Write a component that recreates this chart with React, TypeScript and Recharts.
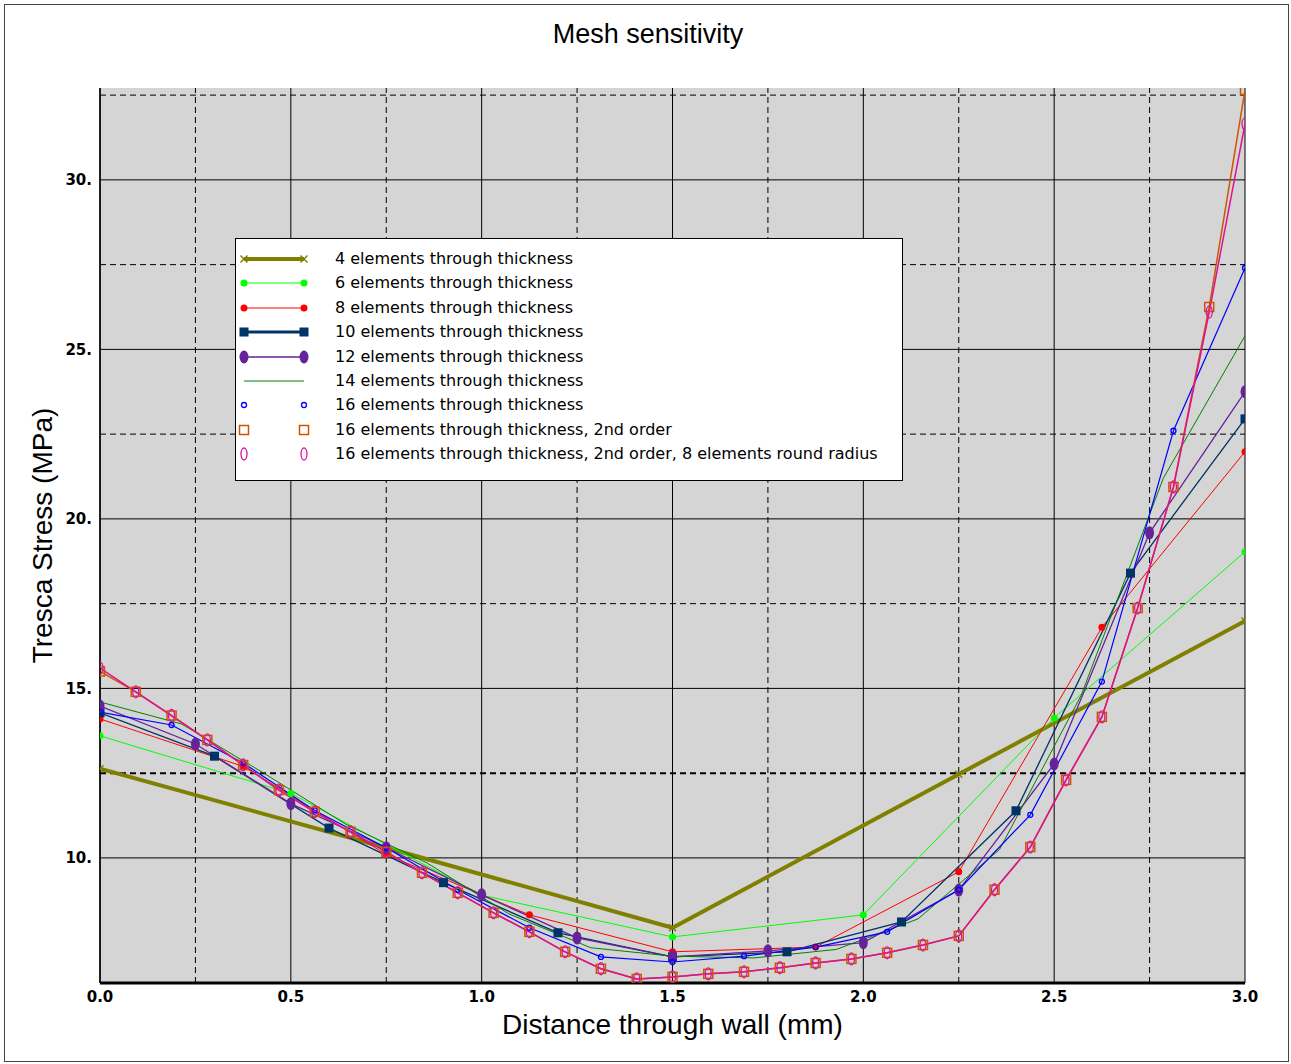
import React from "react";
import { LineChart, Line, XAxis, YAxis, CartesianGrid, ReferenceLine, Label } from "recharts";

// node positions through the wall (mm) and Tresca stress (MPa) for each mesh
const X4 = [0, 0.75, 1.5, 2.25, 3.0];
const Y4 = [12.63, 10.3, 7.94, 12.47, 16.99];

const X6 = [0, 0.5, 1.0, 1.5, 2.0, 2.5, 3.0];
const Y6 = [13.6, 11.9, 8.9, 7.67, 8.32, 14.13, 19.03];

const X8 = [0, 0.375, 0.75, 1.125, 1.5, 1.875, 2.25, 2.625, 3.0];
const Y8 = [14.1, 12.7, 10.1, 8.32, 7.23, 7.37, 9.59, 16.8, 21.98];

const X10 = [0, 0.3, 0.6, 0.9, 1.2, 1.5, 1.8, 2.1, 2.4, 2.7, 3.0];
const Y10 = [14.28, 13.0, 10.88, 9.27, 7.79, 7.08, 7.23, 8.11, 11.39, 18.4, 22.95];

const X12 = [0, 0.25, 0.5, 0.75, 1.0, 1.25, 1.5, 1.75, 2.0, 2.25, 2.5, 2.75, 3.0];
const Y12 = [14.48, 13.36, 11.6, 10.3, 8.91, 7.64, 7.08, 7.26, 7.5, 9.05, 12.77, 19.59, 23.75];

const X14 = [0, 0.214, 0.429, 0.643, 0.857, 1.071, 1.286, 1.5, 1.714, 1.929, 2.143, 2.357, 2.571, 2.786, 3.0];
const Y14 = [14.6, 13.95, 12.5, 11.0, 9.85, 8.35, 7.35, 7.1, 7.05, 7.3, 8.2, 10.25, 14.8, 21.2, 25.4];

const X16 = [0, 0.1875, 0.375, 0.5625, 0.75, 0.9375, 1.125, 1.3125, 1.5, 1.6875, 1.875, 2.0625, 2.25, 2.4375, 2.625, 2.8125, 3.0];
const Y16 = [14.3, 13.92, 12.8, 11.4, 10.3, 9.06, 7.94, 7.08, 6.93, 7.1, 7.37, 7.82, 9.06, 11.27, 15.2, 22.6, 27.4];

// 2nd order meshes have midside nodes too
const X16Q = [
  0, 0.09375, 0.1875, 0.28125, 0.375, 0.46875, 0.5625, 0.65625, 0.75, 0.84375, 0.9375,
  1.03125, 1.125, 1.21875, 1.3125, 1.40625, 1.5, 1.59375, 1.6875, 1.78125, 1.875, 1.96875,
  2.0625, 2.15625, 2.25, 2.34375, 2.4375, 2.53125, 2.625, 2.71875, 2.8125, 2.90625, 3.0,
];
const Y16Q = [
  15.5, 14.9, 14.2, 13.48, 12.74, 12.0, 11.36, 10.77, 10.18, 9.56, 8.97,
  8.38, 7.82, 7.23, 6.73, 6.43, 6.49, 6.58, 6.64, 6.76, 6.9, 7.02,
  7.2, 7.43, 7.7, 9.06, 10.32, 12.3, 14.16, 17.37, 20.94, 26.25, 32.65,
];
const Y16QR = [
  15.6, 14.9, 14.2, 13.48, 12.74, 12.0, 11.36, 10.77, 10.18, 9.56, 8.97,
  8.38, 7.82, 7.23, 6.73, 6.43, 6.49, 6.58, 6.64, 6.76, 6.9, 7.02,
  7.2, 7.43, 7.7, 9.06, 10.32, 12.3, 14.16, 17.37, 20.94, 26.1, 31.65,
];

const X_TICKS = [0, 0.5, 1.0, 1.5, 2.0, 2.5, 3.0];
const X_MINOR = [0.25, 0.75, 1.25, 1.75, 2.25, 2.75];
const Y_TICKS = [10, 15, 20, 25, 30];
const Y_MINOR = [12.5, 17.5, 22.5, 27.5, 32.5];

type MarkerKind = "x" | "dot" | "square" | "diamond" | "none" | "ring" | "box" | "oval";

interface Series {
  key: string;
  name: string;
  xs: number[];
  ys: number[];
  color: string;
  width: number;
  marker: MarkerKind;
  legendLine: boolean;
  legendWidth: number;
}

const SERIES: Series[] = [
  { key: "e4", name: "4 elements through thickness", xs: X4, ys: Y4, color: "#808000", width: 4, marker: "x", legendLine: true, legendWidth: 4 },
  { key: "e6", name: "6 elements through thickness", xs: X6, ys: Y6, color: "#00ff00", width: 1, marker: "dot", legendLine: true, legendWidth: 1 },
  { key: "e8", name: "8 elements through thickness", xs: X8, ys: Y8, color: "#ff0000", width: 1, marker: "dot", legendLine: true, legendWidth: 1 },
  { key: "e10", name: "10 elements through thickness", xs: X10, ys: Y10, color: "#003366", width: 1.3, marker: "square", legendLine: true, legendWidth: 3 },
  { key: "e12", name: "12 elements through thickness", xs: X12, ys: Y12, color: "#662299", width: 1.3, marker: "diamond", legendLine: true, legendWidth: 1.5 },
  { key: "e14", name: "14 elements through thickness", xs: X14, ys: Y14, color: "#008000", width: 1, marker: "none", legendLine: true, legendWidth: 1 },
  { key: "e16", name: "16 elements through thickness", xs: X16, ys: Y16, color: "#0000ff", width: 1.2, marker: "ring", legendLine: false, legendWidth: 1 },
  { key: "e16q", name: "16 elements through thickness, 2nd order", xs: X16Q, ys: Y16Q, color: "#cc5500", width: 1.5, marker: "box", legendLine: false, legendWidth: 1 },
  { key: "e16qr", name: "16 elements through thickness, 2nd order, 8 elements round radius", xs: X16Q, ys: Y16QR, color: "#dd1199", width: 1.5, marker: "oval", legendLine: false, legendWidth: 1 },
];

const rows = (xs: number[], ys: number[]) => xs.map((x, i) => ({ x, y: ys[i] }));

function Marker({ kind, cx, cy, color }: { kind: MarkerKind; cx: number; cy: number; color: string }) {
  switch (kind) {
    case "x":
      return (
        <g stroke={color} strokeWidth={1.5}>
          <line x1={cx - 3.5} y1={cy - 3.5} x2={cx + 3.5} y2={cy + 3.5} />
          <line x1={cx - 3.5} y1={cy + 3.5} x2={cx + 3.5} y2={cy - 3.5} />
        </g>
      );
    case "dot":
      return <circle cx={cx} cy={cy} r={3.5} fill={color} />;
    case "square":
      return <rect x={cx - 4.5} y={cy - 4.5} width={9} height={9} fill={color} />;
    case "diamond":
      return <ellipse cx={cx} cy={cy} rx={4.5} ry={6.5} fill={color} />;
    case "ring":
      return <circle cx={cx} cy={cy} r={2.5} fill="none" stroke={color} strokeWidth={1.3} />;
    case "box":
      return <rect x={cx - 4.5} y={cy - 4.5} width={9} height={9} fill="none" stroke={color} strokeWidth={1.5} />;
    case "oval":
      return <ellipse cx={cx} cy={cy} rx={3} ry={6} fill="none" stroke={color} strokeWidth={1.3} />;
    default:
      return null;
  }
}

function LegendBox() {
  return (
    <div
      style={{
        position: "absolute",
        left: 235,
        top: 238,
        width: 666,
        height: 233,
        border: "1px solid #000",
        background: "#fff",
        paddingTop: 8,
        boxSizing: "content-box",
      }}
    >
      {SERIES.map((s) => (
        <div key={s.key} style={{ position: "relative", height: 24.4 }}>
          <svg width={80} height={24} style={{ position: "absolute", left: 0, top: 0 }}>
            {s.legendLine && (
              <line x1={8} y1={12} x2={68} y2={12} stroke={s.color} strokeWidth={s.legendWidth} />
            )}
            <Marker kind={s.marker} cx={8} cy={12} color={s.color} />
            <Marker kind={s.marker} cx={68} cy={12} color={s.color} />
          </svg>
          <span
            style={{
              position: "absolute",
              left: 99,
              top: 2,
              fontFamily: "DejaVu Sans",
              fontSize: 16,
              lineHeight: "20px",
              color: "#000",
              whiteSpace: "nowrap",
            }}
          >
            {s.name}
          </span>
        </div>
      ))}
    </div>
  );
}

const tickStyle = { fill: "#000", fontSize: 15, fontWeight: "bold" as const, fontFamily: "DejaVu Sans" };

export default function App() {
  return (
    <div style={{ position: "absolute", left: 0, top: 0, width: 1291, height: 1064, background: "#fff" }}>
      <div
        style={{
          position: "absolute",
          left: 4,
          top: 4,
          width: 1283,
          height: 1056,
          border: "1px solid #444",
        }}
      />
      <div
        style={{
          position: "absolute",
          left: 0,
          top: 19,
          width: 1296,
          textAlign: "center",
          fontFamily: "Liberation Sans",
          fontSize: 27,
          lineHeight: "30px",
          color: "#000",
        }}
      >
        Mesh sensitivity
      </div>
      <div style={{ position: "absolute", left: 0, top: 0 }}>
        <LineChart width={1291} height={1064} margin={{ top: 88, right: 46, bottom: 51, left: 40 }}>
          <CartesianGrid fill="#d5d5d5" stroke="none" horizontal={false} vertical={false} />
          {X_MINOR.map((v) => (
            <ReferenceLine key={`xm${v}`} x={v} stroke="#000" strokeDasharray="6 4" strokeWidth={1} />
          ))}
          {X_TICKS.map((v) => (
            <ReferenceLine key={`xt${v}`} x={v} stroke="#000" strokeWidth={1} />
          ))}
          {Y_MINOR.map((v) => (
            <ReferenceLine
              key={`ym${v}`}
              y={v}
              stroke="#000"
              strokeDasharray="6 4"
              strokeWidth={v === 12.5 ? 2 : 1}
            />
          ))}
          {Y_TICKS.map((v) => (
            <ReferenceLine key={`yt${v}`} y={v} stroke="#000" strokeWidth={1} />
          ))}
          <XAxis
            type="number"
            dataKey="x"
            domain={[0, 3]}
            ticks={X_TICKS}
            allowDataOverflow
            allowDuplicatedCategory={false}
            tickFormatter={(v: number) => v.toFixed(1)}
            axisLine={{ stroke: "#000", strokeWidth: 3 }}
            tickLine={false}
            tick={tickStyle}
            height={30}
          >
            <Label
              value="Distance through wall (mm)"
              position="bottom"
              offset={1}
              style={{ fontFamily: "Liberation Sans", fontSize: 28, fill: "#000" }}
            />
          </XAxis>
          <YAxis
            type="number"
            domain={[6.31, 32.71]}
            ticks={Y_TICKS}
            allowDataOverflow
            tickFormatter={(v: number) => `${v}.`}
            axisLine={{ stroke: "#000", strokeWidth: 1.5 }}
            tickLine={false}
            tick={tickStyle}
            width={60}
          >
            <Label
              value="Tresca Stress (MPa)"
              angle={-90}
              position="insideLeft"
              offset={2}
              style={{ fontFamily: "Liberation Sans", fontSize: 28, fill: "#000", textAnchor: "middle" }}
            />
          </YAxis>
          {SERIES.map((s) => (
            <Line
              key={s.key}
              data={rows(s.xs, s.ys)}
              dataKey="y"
              name={s.name}
              type="linear"
              stroke={s.color}
              strokeWidth={s.width}
              isAnimationActive={false}
              activeDot={false}
              dot={
                s.marker === "none"
                  ? false
                  : (p: any) => (
                      <Marker key={`${s.key}-${p.index}`} kind={s.marker} cx={p.cx} cy={p.cy} color={s.color} />
                    )
              }
            />
          ))}
        </LineChart>
      </div>
      <LegendBox />
    </div>
  );
}
